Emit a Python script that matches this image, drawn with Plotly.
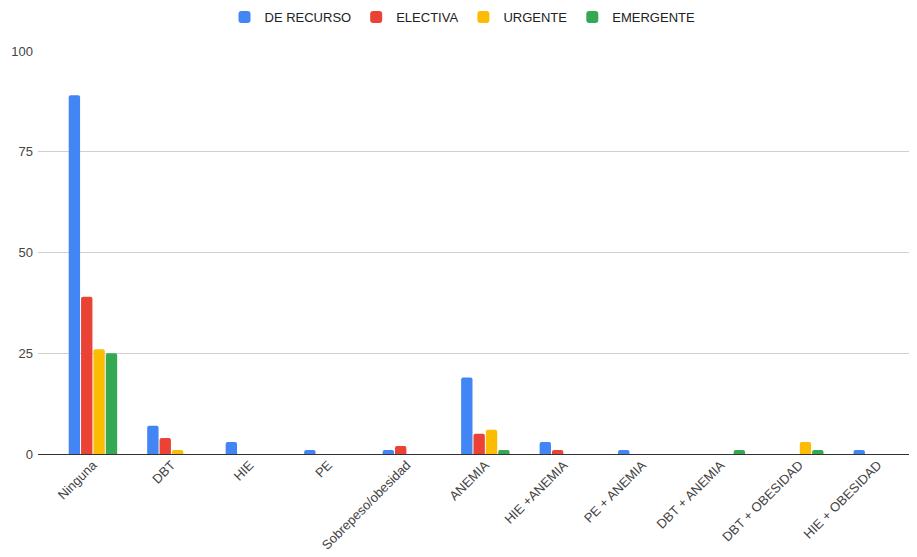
import plotly.graph_objects as go

categories = ["Ninguna", "DBT", "HIE", "PE", "Sobrepeso/obesidad", "ANEMIA",
              "HIE +ANEMIA", "PE + ANEMIA", "DBT + ANEMIA", "DBT + OBESIDAD", "HIE + OBESIDAD"]
de_recurso = [89, 7, 3, 1, 1, 19, 3, 1, 0, 0, 1]
electiva = [39, 4, 0, 0, 2, 5, 1, 0, 0, 0, 0]
urgente = [26, 1, 0, 0, 0, 6, 0, 0, 0, 3, 0]
emergente = [25, 0, 0, 0, 0, 1, 0, 0, 1, 1, 0]

series = [("DE RECURSO", de_recurso, "#4285F4"),
          ("ELECTIVA", electiva, "#EA4335"),
          ("URGENTE", urgente, "#FBBC04"),
          ("EMERGENTE", emergente, "#34A853")]

fig = go.Figure()
for name, vals, color in series:
    fig.add_trace(go.Bar(name=name, x=categories, y=vals, marker_color=color,
                         marker_line_width=0))

W, H = 909, 549
fig.update_layout(
    width=W, height=H,
    barmode="group", bargap=0.37, bargroupgap=0.08, barcornerradius=2,
    paper_bgcolor="white", plot_bgcolor="white",
    margin=dict(l=30, r=0, t=43, b=103),
    font=dict(family="Liberation Sans, Arial, sans-serif", size=13, color="#444444"),
    legend=dict(orientation="h", x=0.5, xanchor="center", xref="container",
                y=1 - 9 / H, yanchor="middle", yref="container",
                font=dict(size=13, color="#222222"), itemwidth=30,
                traceorder="normal"),
    xaxis=dict(range=[-0.7, 10.5], tickangle=-45, showgrid=False,
               showline=False, ticks="", tickfont=dict(size=13, color="#444444")),
    yaxis=dict(range=[0, 100], tickvals=[0, 25, 50, 75, 100],
               gridcolor="#d0d0d0", zeroline=True, zerolinecolor="#333333",
               zerolinewidth=1, ticks="", ticklabelstandoff=4,
               tickfont=dict(size=13, color="#444444")),
)

fig.write_html("out.html")
